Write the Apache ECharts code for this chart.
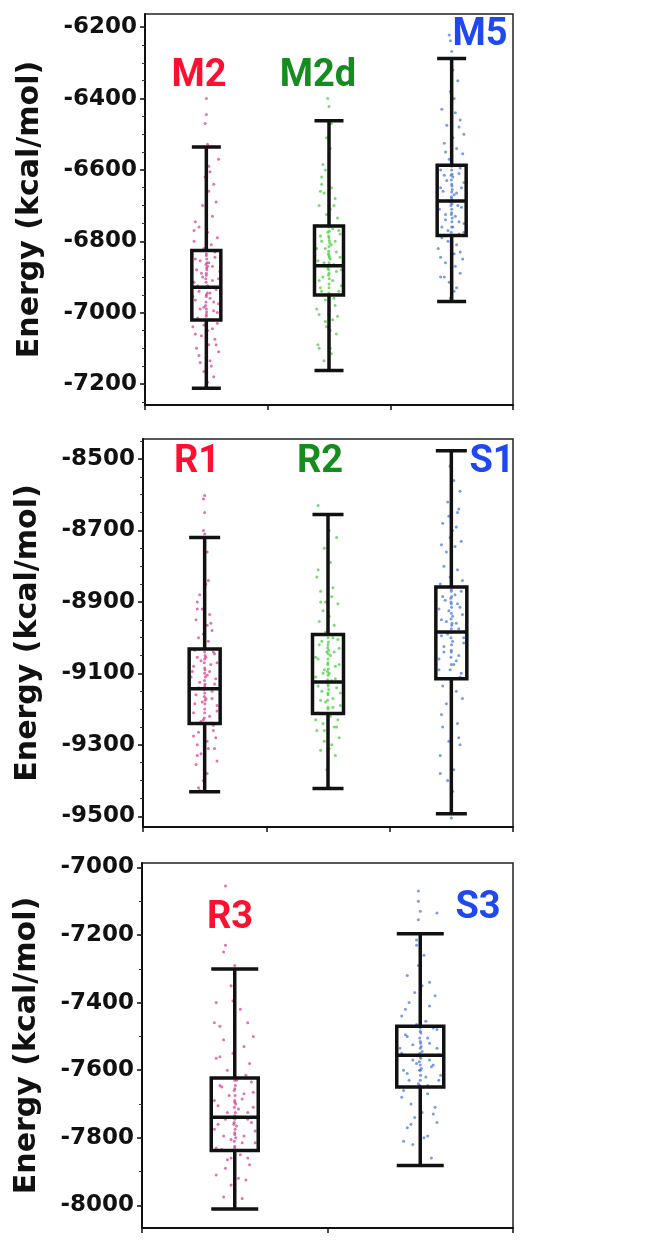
<!DOCTYPE html>
<html>
<head>
<meta charset="utf-8">
<script src="https://cdn.jsdelivr.net/npm/echarts@6/dist/echarts.min.js"></script>
<style>
html,body{margin:0;padding:0;background:#fff;}
#c{width:650px;height:1240px;}
</style>
</head>
<body>
<div id="c"></div>
<script>
// ---------- DATA ----------
const cats1 = ['M2', 'M2d', 'M5'];
const cats2 = ['R1', 'R2', 'S1'];
const cats3 = ['R3', 'S3'];

// box stats: [min whisker, Q1, median, Q3, max whisker]
const box1 = [
  [-7212, -7021, -6929, -6826, -6536],
  [-7162, -6951, -6869, -6757, -6462],
  [-6969, -6784, -6687, -6587, -6288]
];
const box2 = [
  [-9431, -9240, -9143, -9032, -8720],
  [-9422, -9212, -9124, -8991, -8655],
  [-9493, -9115, -8984, -8858, -8477]
];
const box3 = [
  [-8011, -7838, -7739, -7623, -7301],
  [-7882, -7650, -7556, -7470, -7196]
];

const ticks1 = [-7200, -7000, -6800, -6600, -6400, -6200];
const ticks2 = [-9500, -9300, -9100, -8900, -8700, -8500];
const ticks3 = [-8000, -7800, -7600, -7400, -7200, -7000];
const minor1 = [-7250,-7200,-7150,-7100,-7050,-7000,-6950,-6900,-6850,-6800,-6750,-6700,-6650,-6600,-6550,-6500,-6450,-6400,-6350,-6300,-6250,-6200];
const minor2 = [-9500,-9450,-9400,-9350,-9300,-9250,-9200,-9150,-9100,-9050,-9000,-8950,-8900,-8850,-8800,-8750,-8700,-8650,-8600,-8550,-8500,-8450];
const minor3 = [-8000,-7900,-7800,-7700,-7600,-7500,-7400,-7300,-7200,-7100,-7000];

// jittered individual energies: [horizontal jitter (category units), energy]
const ptsM2 = [[0.00,-6400],[0.00,-6445],[-0.01,-6470],[0.01,-6528],[0.1,-6570],[0.02,-6590],[0.03,-6605],[0.06,-6640],[0.08,-6690],[-0.03,-6700],[-0.09,-6745],[-0.06,-6760],[0.01,-6775],[0.09,-6790],[-0.1,-6800],[0.04,-6810],[-0.02,-6820],[0.0,-6835],[0.07,-6845],[-0.05,-6855],[0.02,-6860],[0.01,-6870],[-0.08,-6880],[0.11,-6885],[0.0,-6895],[-0.03,-6900],[0.05,-6910],[-0.1,-6915],[0.01,-6925],[0.08,-6935],[-0.06,-6940],[0.0,-6950],[0.03,-6960],[-0.09,-6965],[0.1,-6975],[-0.02,-6985],[0.06,-6995],[0.0,-7005],[-0.07,-7015],[0.04,-7020],[0.09,-7030],[-0.11,-7040],[0.01,-7050],[-0.04,-7065],[0.07,-7075],[0.02,-7090],[-0.08,-7100],[0.1,-7110],[0.0,-7125],[-0.05,-7140],[0.04,-7150],[-0.02,-7165],[0.06,-7180],[0.01,-7195],[0.005,-6880],[-0.005,-6905],[0.008,-6945],[-0.006,-6980],[0.004,-6860],[0.0,-6990],
  [0.0,-6840],[0.003,-6850],[-0.003,-6865],[0.002,-6875],[0.0,-6890],[-0.002,-6915],[0.003,-6930],[0.0,-6955],[-0.003,-6970],[0.002,-6998],[0.0,-7010],[0.07,-6830],[-0.09,-6850],[0.05,-6870],[-0.04,-6890],[0.1,-6905],[-0.07,-6925],[0.03,-6945],[-0.11,-6955],[0.06,-6970],[-0.05,-6990],[0.09,-7000],[-0.02,-7035],[0.05,-7045],[-0.09,-7060],[0.08,-7090],[-0.06,-7120],[0.03,-7135],[-0.1,-6770],[0.05,-6730],[0.02,-6660],[-0.01,-6620]];
const ptsM2d = [[-0.01,-6400],[0.0,-6422],[0.02,-6470],[-0.02,-6510],[0.01,-6540],[-0.05,-6585],[-0.03,-6600],[0.0,-6620],[-0.06,-6640],[0.02,-6650],[-0.04,-6665],[0.05,-6680],[-0.08,-6700],[0.01,-6710],[-0.02,-6725],[0.07,-6735],[0.0,-6745],[-0.1,-6755],[0.03,-6765],[-0.01,-6775],[0.09,-6780],[0.0,-6790],[-0.06,-6800],[0.02,-6810],[-0.03,-6820],[0.06,-6830],[0.0,-6840],[0.01,-6850],[-0.09,-6855],[0.04,-6865],[-0.01,-6875],[0.1,-6880],[0.0,-6890],[-0.05,-6900],[0.03,-6910],[0.0,-6920],[-0.07,-6930],[0.08,-6940],[0.01,-6950],[-0.03,-6965],[0.05,-6980],[0.0,-6995],[-0.08,-7005],[0.03,-7020],[-0.02,-7040],[0.06,-7060],[0.0,-7075],[-0.09,-7090],[-0.08,-7100],[0.02,-7115],[-0.04,-7135],[0.0,-7150],[0.005,-6805],[-0.005,-6835],[0.006,-6870],[-0.004,-6895],
  [0.0,-6760],[0.003,-6772],[-0.003,-6785],[0.002,-6798],[0.0,-6815],[-0.002,-6828],[0.003,-6845],[0.0,-6860],[-0.003,-6880],[0.002,-6905],[0.0,-6930],[-0.003,-6945],[0.08,-6770],[-0.07,-6785],[0.05,-6800],[-0.1,-6820],[0.09,-6845],[-0.04,-6860],[0.06,-6885],[-0.08,-6910],[0.1,-6925],[-0.06,-6940],[0.04,-6960],[-0.1,-6990],[0.07,-7010],[-0.03,-7025],[0.01,-7050],[-0.06,-6620],[-0.07,-6660],[0.04,-6700],[0.0,-6560],[0.01,-7100]];
const ptsM5 = [[-0.02,-6222],[-0.01,-6238],[0.0,-6268],[0.01,-6320],[0.05,-6350],[-0.01,-6380],[0.02,-6400],[-0.08,-6430],[0.03,-6440],[0.07,-6460],[-0.04,-6475],[0.1,-6500],[0.01,-6510],[-0.06,-6525],[0.04,-6540],[0.09,-6555],[-0.02,-6570],[0.0,-6590],[-0.09,-6600],[0.06,-6610],[0.01,-6620],[-0.04,-6630],[0.0,-6640],[0.08,-6650],[-0.07,-6660],[0.02,-6670],[0.0,-6680],[-0.01,-6690],[0.05,-6700],[-0.1,-6710],[0.0,-6720],[0.03,-6730],[-0.05,-6740],[0.1,-6750],[0.01,-6760],[-0.03,-6770],[0.06,-6780],[-0.08,-6790],[0.0,-6800],[0.04,-6810],[-0.11,-6820],[0.02,-6835],[0.09,-6850],[-0.05,-6860],[0.0,-6875],[0.07,-6890],[-0.09,-6900],[-0.02,-6915],[0.04,-6930],[0.0,-6950],[0.005,-6655],[-0.006,-6700],[0.004,-6735],[-0.004,-6615],
  [0.0,-6600],[0.003,-6612],[-0.003,-6628],[0.002,-6645],[0.0,-6662],[-0.002,-6675],[0.003,-6695],[0.0,-6710],[-0.003,-6725],[0.002,-6745],[0.0,-6760],[-0.003,-6775],[0.07,-6595],[-0.06,-6615],[0.1,-6635],[-0.09,-6650],[0.04,-6665],[-0.11,-6685],[0.08,-6705],[-0.05,-6725],[0.06,-6745],[-0.08,-6760],[0.1,-6775],[-0.03,-6800],[0.07,-6830],[-0.09,-6845],[0.03,-6870],[-0.06,-6900],[0.02,-6940],[-0.01,-6960],[0.06,-6480],[-0.05,-6550]];
const ptsR1 = [[0.0,-8602],[-0.01,-8612],[0.0,-8650],[-0.01,-8700],[0.0,-8710],[0.02,-8760],[0.03,-8840],[0.01,-8850],[-0.04,-8880],[-0.06,-8900],[0.0,-8905],[-0.02,-8920],[0.04,-8935],[-0.07,-8950],[0.02,-8965],[0.06,-8980],[-0.01,-8990],[-0.05,-9000],[0.03,-9010],[0.0,-9020],[-0.08,-9035],[0.08,-9045],[0.01,-9055],[-0.03,-9065],[0.05,-9075],[0.0,-9085],[-0.1,-9095],[0.02,-9105],[0.09,-9115],[-0.04,-9125],[0.0,-9135],[0.06,-9150],[-0.07,-9160],[0.01,-9170],[-0.02,-9180],[0.1,-9190],[0.0,-9200],[-0.09,-9210],[0.04,-9220],[-0.01,-9230],[0.07,-9245],[0.0,-9255],[-0.05,-9265],[0.09,-9280],[0.02,-9290],[-0.06,-9300],[0.08,-9310],[-0.03,-9325],[0.1,-9345],[-0.07,-9355],[-0.05,-9420],[-0.04,-9428],[0.005,-9110],[-0.005,-9145],[0.004,-9175],[0.0,-9060],
  [0.0,-9040],[0.003,-9050],[-0.003,-9070],[0.002,-9090],[0.0,-9100],[-0.002,-9120],[0.003,-9130],[0.0,-9155],[-0.003,-9165],[0.002,-9185],[0.0,-9210],[-0.003,-9225],[0.07,-9040],[-0.06,-9055],[0.1,-9070],[-0.09,-9080],[0.04,-9095],[-0.11,-9110],[0.08,-9130],[-0.05,-9140],[0.06,-9170],[-0.08,-9185],[0.1,-9205],[-0.03,-9235],[0.07,-9260],[-0.09,-9275],[0.03,-9310],[-0.06,-9330],[0.02,-9380],[-0.01,-9400],[-0.06,-8920],[0.05,-8960]];
const ptsR2 = [[-0.08,-8630],[0.01,-8700],[0.07,-8720],[-0.03,-8750],[0.02,-8790],[-0.09,-8830],[0.0,-8845],[-0.06,-8870],[0.03,-8885],[-0.02,-8900],[0.08,-8905],[-0.04,-8925],[0.01,-8940],[-0.07,-8955],[0.05,-8965],[0.0,-8975],[-0.02,-8985],[0.04,-9000],[-0.05,-9010],[0.0,-9020],[0.09,-9030],[-0.01,-9040],[0.02,-9050],[-0.08,-9060],[0.0,-9070],[0.06,-9080],[-0.03,-9090],[0.01,-9100],[-0.1,-9110],[0.03,-9120],[0.0,-9130],[0.07,-9140],[-0.05,-9150],[0.0,-9160],[0.04,-9170],[-0.02,-9180],[0.1,-9190],[0.0,-9200],[-0.08,-9210],[0.02,-9220],[0.08,-9230],[-0.04,-9240],[0.05,-9250],[-0.09,-9260],[0.0,-9270],[0.09,-9280],[-0.03,-9290],[0.03,-9300],[-0.06,-9315],[0.06,-9330],[0.0,-9345],[-0.01,-9370],[0.0,-9390],[0.005,-9035],[-0.005,-9095],[0.005,-9145],
  [0.0,-9000],[0.003,-9012],[-0.003,-9028],[0.002,-9045],[0.0,-9060],[-0.002,-9075],[0.003,-9088],[0.0,-9105],[-0.003,-9118],[0.002,-9135],[0.0,-9155],[-0.003,-9175],[0.0,-9195],[0.08,-9005],[-0.07,-9020],[0.05,-9040],[-0.1,-9055],[0.09,-9075],[-0.04,-9100],[0.06,-9115],[-0.08,-9135],[0.1,-9155],[-0.06,-9175],[0.04,-9195],[-0.1,-9230],[0.07,-9250],[-0.03,-9260],[0.01,-9310],[-0.06,-8900],[0.04,-8860],[-0.08,-8810],[0.02,-9420]];
const ptsS1 = [[-0.01,-8520],[0.02,-8560],[0.07,-8590],[-0.03,-8620],[0.06,-8640],[-0.02,-8660],[-0.07,-8680],[0.04,-8690],[0.01,-8700],[-0.01,-8720],[0.08,-8730],[0.03,-8745],[-0.04,-8760],[0.0,-8775],[-0.06,-8800],[0.05,-8810],[-0.01,-8830],[0.09,-8840],[-0.09,-8850],[0.0,-8865],[0.03,-8880],[-0.05,-8895],[0.0,-8905],[0.07,-8915],[-0.02,-8925],[0.01,-8940],[-0.08,-8950],[0.04,-8960],[0.0,-8975],[-0.03,-8990],[0.1,-9000],[0.01,-9010],[-0.06,-9025],[0.0,-9040],[0.06,-9050],[-0.1,-9060],[0.02,-9075],[-0.01,-9090],[0.08,-9100],[0.0,-9120],[-0.07,-9135],[0.04,-9150],[0.09,-9170],[-0.04,-9185],[0.0,-9200],[-0.08,-9215],[0.05,-9240],[0.0,-9260],[-0.02,-9290],[0.07,-9300],[-0.09,-9330],[0.0,-9345],[0.02,-9370],[-0.03,-9400],[0.01,-9430],[0.0,-9505],[0.005,-8960],[-0.005,-8890],
  [0.0,-8870],[0.003,-8885],[-0.003,-8900],[0.002,-8915],[0.0,-8932],[-0.002,-8948],[0.003,-8965],[0.0,-8985],[-0.003,-9000],[0.002,-9020],[0.0,-9035],[-0.003,-9055],[0.0,-9075],[0.08,-8870],[-0.07,-8885],[0.05,-8905],[-0.1,-8920],[0.09,-8935],[-0.04,-8955],[0.06,-8975],[-0.08,-8995],[0.1,-9015],[-0.06,-9040],[0.04,-9065],[-0.1,-9090],[0.07,-9110],[-0.07,-9250],[0.06,-9280],[-0.09,-9380],[0.0,-9440],[0.05,-8650],[-0.08,-8740]];
const ptsR3 = [[-0.05,-7055],[-0.05,-7230],[-0.06,-7250],[0.0,-7290],[-0.02,-7350],[0.0,-7370],[-0.01,-7395],[-0.1,-7400],[0.03,-7420],[0.0,-7440],[-0.11,-7460],[-0.08,-7470],[0.1,-7500],[-0.06,-7510],[0.05,-7530],[-0.01,-7550],[-0.1,-7565],[0.08,-7580],[0.0,-7590],[-0.04,-7600],[0.06,-7615],[0.01,-7630],[-0.08,-7645],[0.0,-7655],[0.1,-7665],[-0.03,-7675],[0.04,-7685],[0.0,-7695],[-0.09,-7705],[0.02,-7715],[0.07,-7725],[0.0,-7735],[-0.05,-7745],[0.09,-7755],[0.01,-7765],[-0.11,-7775],[0.0,-7785],[0.05,-7795],[-0.02,-7805],[0.11,-7815],[0.0,-7825],[-0.07,-7835],[0.03,-7850],[-0.04,-7865],[0.08,-7880],[0.0,-7895],[-0.1,-7910],[0.06,-7925],[-0.02,-7940],[0.0,-7955],[-0.06,-7975],[0.04,-7980],[0.005,-7700],[-0.005,-7760],[0.005,-7800],
  [0.0,-7630],[0.003,-7645],[-0.003,-7660],[0.002,-7675],[0.0,-7690],[-0.002,-7710],[0.003,-7725],[0.0,-7745],[-0.003,-7755],[0.002,-7775],[0.0,-7790],[-0.003,-7810],[0.0,-7830],[0.09,-7635],[-0.07,-7650],[0.05,-7670],[-0.11,-7690],[0.1,-7710],[-0.04,-7725],[0.07,-7745],[-0.09,-7760],[0.11,-7780],[-0.06,-7795],[0.04,-7815],[-0.1,-7830],[0.07,-7860],[-0.05,-7890],[0.02,-7920],[-0.08,-7560],[0.07,-7460],[0.0,-7480],[-0.02,-7860]];
const ptsS3 = [[-0.01,-7070],[-0.01,-7100],[0.0,-7130],[0.09,-7135],[-0.01,-7155],[-0.02,-7215],[0.02,-7260],[-0.01,-7290],[-0.07,-7320],[0.01,-7350],[-0.03,-7370],[0.08,-7380],[-0.06,-7400],[0.05,-7410],[0.0,-7425],[-0.1,-7440],[0.03,-7455],[-0.02,-7465],[0.07,-7475],[0.0,-7485],[-0.08,-7495],[0.04,-7505],[0.0,-7515],[-0.04,-7525],[0.09,-7535],[0.01,-7545],[-0.1,-7550],[0.0,-7560],[0.05,-7570],[-0.02,-7580],[0.06,-7590],[0.0,-7600],[-0.07,-7610],[0.03,-7620],[0.1,-7630],[-0.01,-7640],[0.0,-7650],[-0.09,-7660],[0.04,-7670],[0.0,-7685],[-0.05,-7700],[0.08,-7710],[0.01,-7725],[-0.03,-7740],[0.09,-7755],[-0.07,-7770],[0.0,-7780],[0.04,-7795],[-0.09,-7810],[-0.04,-7820],[0.0,-7835],[0.005,-7530],[-0.005,-7575],[0.006,-7595],
  [0.0,-7475],[0.003,-7490],[-0.003,-7505],[0.002,-7520],[0.0,-7535],[-0.002,-7550],[0.003,-7565],[0.0,-7585],[-0.003,-7600],[0.002,-7615],[0.0,-7630],[-0.003,-7645],[0.09,-7480],[-0.07,-7500],[0.05,-7520],[-0.11,-7535],[0.1,-7555],[-0.04,-7570],[0.07,-7585],[-0.09,-7600],[0.11,-7615],[-0.06,-7630],[0.04,-7645],[-0.1,-7680],[0.07,-7730],[-0.05,-7760],[0.02,-7800],[-0.08,-7420],[0.05,-7340],[0.0,-7690],[-0.02,-7230],[0.06,-7860]];

// ---------- STYLE ----------
const PINK = 'rgba(210,50,140,0.85)';
const GREEN = 'rgba(60,200,50,0.85)';
const BLUE = 'rgba(60,110,215,0.85)';
const RED_T = '#ff1030', GREEN_T = '#148c1e', BLUE_T = '#1f48f0';

const grids = [
  {left: 145, right: 137, top: 14, height: 391},
  {left: 143, right: 137, top: 439, height: 388},
  {left: 142, right: 137, top: 863, height: 365}
];
const yRanges = [[-7259, -6163], [-9530, -8444], [-8067, -6987]];
const catsAll = [cats1, cats2, cats3];
const ticksAll = [ticks1, ticks2, ticks3];
const minorAll = [minor1, minor2, minor3];
const boxAll = [box1, box2, box3];
const boxW = [29, 31, 47];

const xAxis = [], yAxis = [], series = [];
for (let g = 0; g < 3; g++) {
  xAxis.push({
    type: 'category', gridIndex: g, data: catsAll[g], boundaryGap: true,
    axisLine: {onZero: false, lineStyle: {color: '#111', width: 2}},
    axisTick: {show: true, length: 5, lineStyle: {color: '#111', width: 1.5}},
    axisLabel: {show: false}, splitLine: {show: false}
  });
}
for (let g = 0; g < 3; g++) {
  xAxis.push({
    type: 'value', gridIndex: g, min: -0.5, max: catsAll[g].length - 0.5, show: false,
    axisLine: {onZero: false}
  });
}
for (let g = 0; g < 3; g++) {
  yAxis.push({
    type: 'value', gridIndex: g, min: yRanges[g][0], max: yRanges[g][1], position: 'left',
    name: 'Energy (kcal/mol)', nameLocation: 'middle', nameRotate: 90, nameGap: 100,
    nameTextStyle: {fontFamily: 'DejaVu Sans', fontWeight: 'bold', fontSize: 30, color: '#111'},
    axisLine: {show: true, onZero: false, lineStyle: {color: '#111', width: 2}},
    axisTick: {show: true, length: 5, customValues: ticksAll[g], lineStyle: {color: '#111', width: 1.5}},
    axisLabel: {show: true, customValues: ticksAll[g], margin: 8, formatter: v => String(v),
      fontFamily: 'DejaVu Sans', fontWeight: 'bold', fontSize: 23, color: '#111'},
    splitLine: {show: false}
  });
}
for (let g = 0; g < 3; g++) {
  yAxis.push({
    type: 'value', gridIndex: g, min: yRanges[g][0], max: yRanges[g][1], position: 'left',
    axisLine: {show: false, onZero: false},
    axisTick: {show: true, length: 3, customValues: minorAll[g], lineStyle: {color: '#333', width: 1}},
    axisLabel: {show: false}, splitLine: {show: false}
  });
}

const ptsGroups = [[ptsM2, ptsM2d, ptsM5], [ptsR1, ptsR2, ptsS1], [ptsR3, ptsS3]];
const colGroups = [[PINK, GREEN, BLUE], [PINK, GREEN, BLUE], [PINK, BLUE]];
for (let g = 0; g < 3; g++) {
  ptsGroups[g].forEach((pts, i) => {
    series.push({
      type: 'scatter', xAxisIndex: 3 + g, yAxisIndex: g, z: 1,
      symbol: 'circle', symbolSize: 3, silent: true,
      itemStyle: {color: colGroups[g][i]},
      data: pts.map(p => [i + p[0], p[1]])
    });
  });
  series.push({
    type: 'boxplot', xAxisIndex: g, yAxisIndex: g, z: 5, silent: true,
    boxWidth: [boxW[g], boxW[g]],
    itemStyle: {color: 'rgba(0,0,0,0)', borderColor: '#111', borderWidth: 3.5},
    emphasis: {disabled: true},
    data: boxAll[g]
  });
}

const lbl = (text, x, y, color) => ({
  type: 'text', x: x, y: y, z: 10,
  style: {text: text, fill: color, font: 'bold 38px Roboto', textAlign: 'center', textVerticalAlign: 'middle'}
});

const chart = echarts.init(document.getElementById('c'), null, {renderer: 'canvas'});
chart.setOption({
  animation: false,
  backgroundColor: '#fff',
  grid: grids.map(g => Object.assign({show: true, borderColor: '#222', borderWidth: 1.5, backgroundColor: 'transparent'}, g)),
  xAxis: xAxis,
  yAxis: yAxis,
  series: series,
  graphic: [
    lbl('M2', 199, 76, RED_T), lbl('M2d', 318, 76, GREEN_T), lbl('M5', 480, 35, BLUE_T),
    lbl('R1', 197, 462, RED_T), lbl('R2', 320, 462, GREEN_T), lbl('S1', 492, 462, BLUE_T),
    lbl('R3', 230, 918, RED_T), lbl('S3', 478, 908, BLUE_T)
  ]
});
</script>
</body>
</html>
